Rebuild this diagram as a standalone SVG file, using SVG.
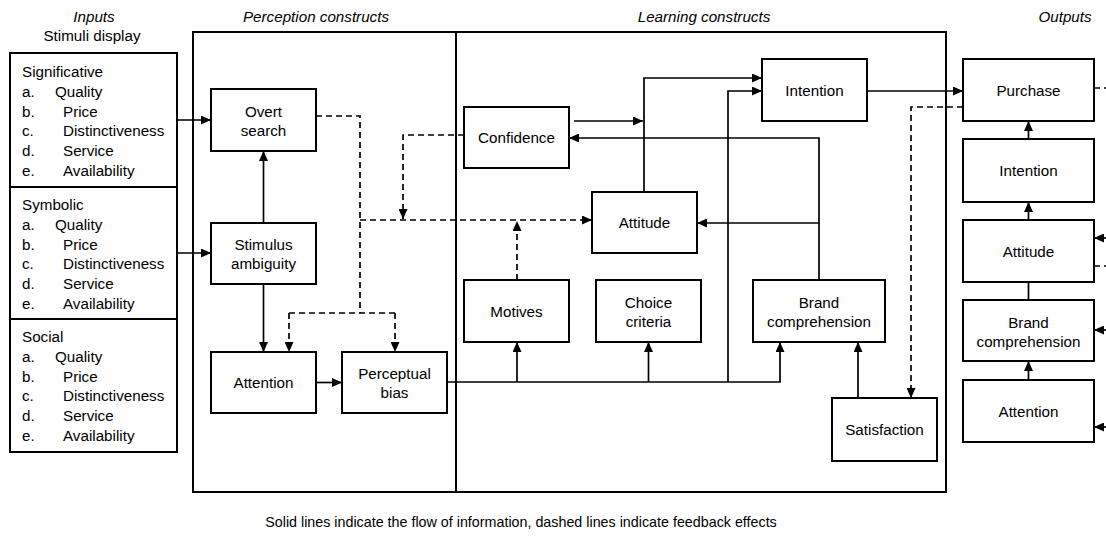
<svg xmlns="http://www.w3.org/2000/svg" width="1106" height="539" viewBox="0 0 1106 539">
  <defs>
    <marker id="arrow" viewBox="0 0 10 9" refX="10" refY="4.5" markerWidth="10" markerHeight="9" markerUnits="userSpaceOnUse" orient="auto">
      <path d="M0,0 L10,4.5 L0,9 Z" fill="#000" stroke="none"/>
    </marker>
  </defs>
  <style>
    .box{fill:#fff;stroke:#000;stroke-width:2}
    .frame{fill:none;stroke:#000;stroke-width:2}
    .t{font-family:"Liberation Sans",Arial,Helvetica,sans-serif;font-size:15.2px;fill:#000}
    .c{text-anchor:middle}
    .hd{font-style:italic}
    .ln{fill:none;stroke:#000;stroke-width:1.7}
    .dash{stroke-dasharray:6 4}
    .ar{marker-end:url(#arrow)}
  </style>
  <rect width="1106" height="539" fill="#fff"/>

  <!-- column headings -->
  <g id="headings" class="t">
    <text class="c hd" x="94" y="22">Inputs</text>
    <text class="c" x="92" y="41">Stimuli display</text>
    <text class="c hd" x="316" y="22">Perception constructs</text>
    <text class="c hd" x="704" y="22">Learning constructs</text>
    <text class="c hd" x="1065" y="22">Outputs</text>
  </g>

  <!-- section frames -->
  <g id="frames">
    <rect class="frame" x="10" y="53" width="167" height="399"/>
    <line class="frame" x1="10" y1="187" x2="177" y2="187"/>
    <line class="frame" x1="10" y1="319" x2="177" y2="319"/>
    <rect class="frame" x="193" y="32" width="263" height="460"/>
    <rect class="frame" x="456" y="32" width="490" height="460"/>
  </g>

  <!-- stimuli lists -->
  <g id="input-significative" class="t">
    <text x="22" y="77">Significative</text>
    <text x="22" y="96.8">a.</text><text x="55" y="96.8">Quality</text>
    <text x="22" y="116.6">b.</text><text x="63" y="116.6">Price</text>
    <text x="22" y="136.4">c.</text><text x="63" y="136.4">Distinctiveness</text>
    <text x="22" y="156.2">d.</text><text x="63" y="156.2">Service</text>
    <text x="22" y="176">e.</text><text x="63" y="176">Availability</text>
  </g>
  <g id="input-symbolic" class="t">
    <text x="22" y="210">Symbolic</text>
    <text x="22" y="229.8">a.</text><text x="55" y="229.8">Quality</text>
    <text x="22" y="249.6">b.</text><text x="63" y="249.6">Price</text>
    <text x="22" y="269.4">c.</text><text x="63" y="269.4">Distinctiveness</text>
    <text x="22" y="289.2">d.</text><text x="63" y="289.2">Service</text>
    <text x="22" y="309">e.</text><text x="63" y="309">Availability</text>
  </g>
  <g id="input-social" class="t">
    <text x="22" y="342">Social</text>
    <text x="22" y="361.8">a.</text><text x="55" y="361.8">Quality</text>
    <text x="22" y="381.6">b.</text><text x="63" y="381.6">Price</text>
    <text x="22" y="401.4">c.</text><text x="63" y="401.4">Distinctiveness</text>
    <text x="22" y="421.2">d.</text><text x="63" y="421.2">Service</text>
    <text x="22" y="441">e.</text><text x="63" y="441">Availability</text>
  </g>

  <!-- connectors -->
  <g id="connectors">
    <!-- inputs into perception -->
    <path class="ln ar" d="M177,120 H211"/>
    <path class="ln ar" d="M177,253 H211"/>
    <!-- perception flow -->
    <path class="ln ar" d="M263.5,223 V151"/>
    <path class="ln ar" d="M263.5,284 V352"/>
    <path class="ln ar" d="M316,382.5 H342"/>
    <!-- feedback from overt search -->
    <path class="ln dash" d="M316,116 H360 V313"/>
    <path class="ln dash" d="M289,313 H395"/>
    <path class="ln dash ar" d="M289,313 V352"/>
    <path class="ln dash ar" d="M395,313 V352"/>
    <path class="ln dash ar" d="M360,220 H592"/>
    <!-- feedback from confidence and motives -->
    <path class="ln dash ar" d="M464,135 H403 V219"/>
    <path class="ln dash ar" d="M517,280 V221"/>
    <!-- perceptual bias into learning constructs -->
    <path class="ln ar" d="M447,382 H780 V342"/>
    <path class="ln ar" d="M517,382 V342"/>
    <path class="ln ar" d="M648.5,382 V342"/>
    <path class="ln ar" d="M728,382 V91 H762"/>
    <!-- attitude and confidence to intention -->
    <path class="ln ar" d="M644,192 V78 H762"/>
    <path class="ln ar" d="M574,121 H643"/>
    <!-- brand comprehension to confidence and attitude -->
    <path class="ln ar" d="M819,280 V138 H569"/>
    <path class="ln ar" d="M819,223 H697"/>
    <!-- satisfaction to brand comprehension -->
    <path class="ln ar" d="M858,398 V342"/>
    <!-- intention to purchase -->
    <path class="ln ar" d="M867,91 H963"/>
    <!-- purchase feedback to satisfaction -->
    <path class="ln dash ar" d="M963,107 H911 V398"/>
    <!-- output hierarchy -->
    <path class="ln ar" d="M1028.5,139 V121"/>
    <path class="ln ar" d="M1028.5,220 V202"/>
    <path class="ln" d="M1028.5,300 V282"/>
    <path class="ln ar" d="M1028.5,380 V361"/>
    <!-- stubs at the right edge -->
    <path class="ln dash" d="M1094,88 H1106"/>
    <path class="ln ar" d="M1106,238 H1094"/>
    <path class="ln dash" d="M1094,266 H1106"/>
    <path class="ln ar" d="M1106,330 H1094"/>
    <path class="ln ar" d="M1106,427 H1094"/>
  </g>

  <!-- perception constructs -->
  <g id="overt-search" class="t c">
    <rect class="box" x="211" y="89" width="105" height="62"/>
    <text x="263.5" y="117">Overt</text>
    <text x="263.5" y="136">search</text>
  </g>
  <g id="stimulus-ambiguity" class="t c">
    <rect class="box" x="211" y="223" width="105" height="61"/>
    <text x="263.5" y="250">Stimulus</text>
    <text x="263.5" y="269">ambiguity</text>
  </g>
  <g id="attention-p" class="t c">
    <rect class="box" x="211" y="352" width="105" height="61"/>
    <text x="263.5" y="388">Attention</text>
  </g>
  <g id="perceptual-bias" class="t c">
    <rect class="box" x="342" y="352" width="105" height="61"/>
    <text x="394.5" y="379">Perceptual</text>
    <text x="394.5" y="398">bias</text>
  </g>

  <!-- learning constructs -->
  <g id="confidence" class="t c">
    <rect class="box" x="464" y="107" width="105" height="61"/>
    <text x="516.5" y="143">Confidence</text>
  </g>
  <g id="attitude-l" class="t c">
    <rect class="box" x="592" y="192" width="105" height="61"/>
    <text x="644.5" y="228">Attitude</text>
  </g>
  <g id="intention-l" class="t c">
    <rect class="box" x="762" y="59" width="105" height="62"/>
    <text x="814.5" y="95.5">Intention</text>
  </g>
  <g id="motives" class="t c">
    <rect class="box" x="464" y="280" width="105" height="62"/>
    <text x="516.5" y="316.5">Motives</text>
  </g>
  <g id="choice-criteria" class="t c">
    <rect class="box" x="596" y="280" width="105" height="62"/>
    <text x="648.5" y="307.5">Choice</text>
    <text x="648.5" y="326.5">criteria</text>
  </g>
  <g id="brand-comprehension-l" class="t c">
    <rect class="box" x="753" y="280" width="132" height="62"/>
    <text x="819" y="307.5">Brand</text>
    <text x="819" y="326.5">comprehension</text>
  </g>
  <g id="satisfaction" class="t c">
    <rect class="box" x="832" y="398" width="105" height="63"/>
    <text x="884.5" y="435">Satisfaction</text>
  </g>

  <!-- outputs -->
  <g id="purchase" class="t c">
    <rect class="box" x="963" y="59" width="131" height="62"/>
    <text x="1028.5" y="95.5">Purchase</text>
  </g>
  <g id="intention-o" class="t c">
    <rect class="box" x="963" y="139" width="131" height="63"/>
    <text x="1028.5" y="176">Intention</text>
  </g>
  <g id="attitude-o" class="t c">
    <rect class="box" x="963" y="220" width="131" height="62"/>
    <text x="1028.5" y="256.5">Attitude</text>
  </g>
  <g id="brand-comprehension-o" class="t c">
    <rect class="box" x="963" y="300" width="131" height="61"/>
    <text x="1028.5" y="327.5">Brand</text>
    <text x="1028.5" y="346.5">comprehension</text>
  </g>
  <g id="attention-o" class="t c">
    <rect class="box" x="963" y="380" width="131" height="62"/>
    <text x="1028.5" y="416.5">Attention</text>
  </g>

  <!-- legend -->
  <g id="legend" class="t">
    <text class="c" x="521" y="527" style="font-size:14.3px">Solid lines indicate the flow of information, dashed lines indicate feedback effects</text>
  </g>
</svg>
